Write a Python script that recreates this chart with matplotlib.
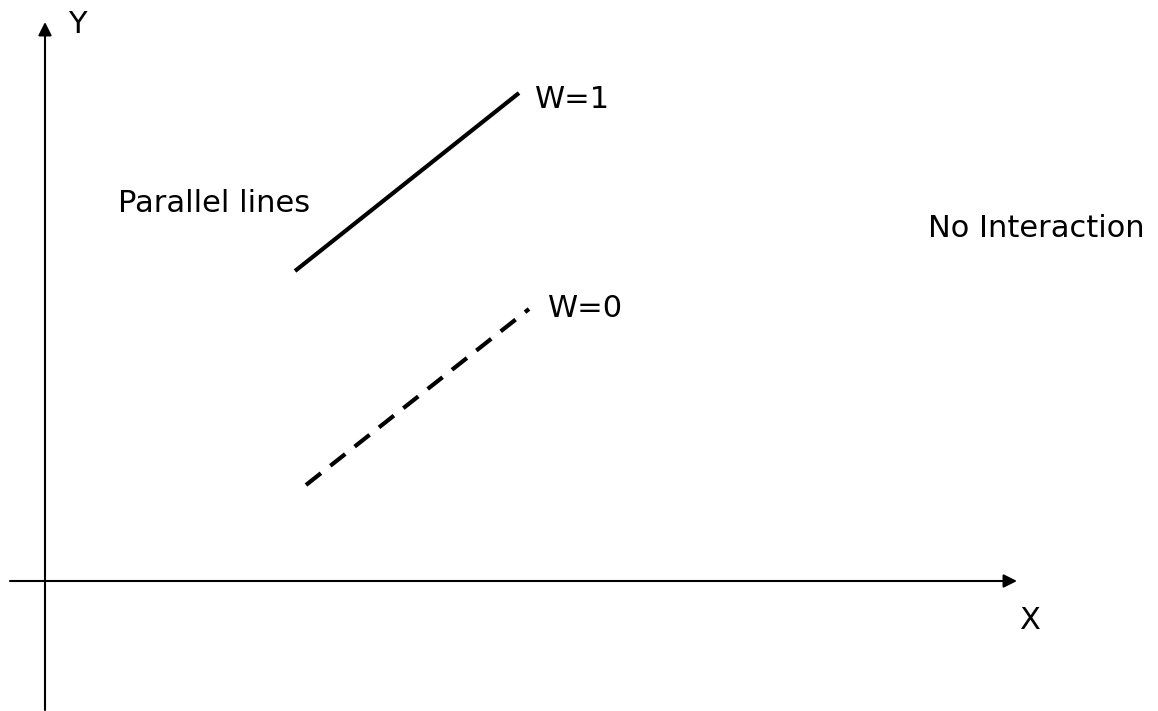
import matplotlib
matplotlib.use("Agg")
import matplotlib.pyplot as plt

# Data (origin at the axes crossing; units arbitrary)
w1_x = [250, 474]
w1_y = [310, 488]
w0_x = [261, 484]
w0_y = [96, 272]

x_axis_range = [-35, 972]
y_axis_range = [-129, 559]

labels = {
    "Y": (23, 548),
    "X": (974, -48),
    "W=1": (490, 473),
    "W=0": (503, 264),
    "Parallel lines": (73, 369),
    "No Interaction": (883, 344),
}

fig = plt.figure(figsize=(11.58, 7.11), dpi=100)
ax = fig.add_axes([0, 0, 1, 1])
ax.set_xlim(-45, 1113)
ax.set_ylim(-130, 581)
ax.axis("off")

arrow = dict(arrowstyle="-|>", mutation_scale=20, lw=1.5, color="black",
             shrinkA=0, shrinkB=0)
ax.annotate("", xy=(x_axis_range[1], 0), xytext=(x_axis_range[0], 0), arrowprops=arrow)
ax.annotate("", xy=(0, y_axis_range[1]), xytext=(0, y_axis_range[0]), arrowprops=arrow)

ax.plot(w1_x, w1_y, color="black", lw=3, solid_capstyle="butt")
ax.plot(w0_x, w0_y, color="black", lw=3, linestyle=(0, (4.56, 2.88)),
        dash_capstyle="butt")

for txt, (x, y) in labels.items():
    ax.text(x, y, txt, fontsize=22, family="DejaVu Sans", ha="left", va="baseline",
            color="black")

fig.savefig("out.png", dpi=100, facecolor="white")
